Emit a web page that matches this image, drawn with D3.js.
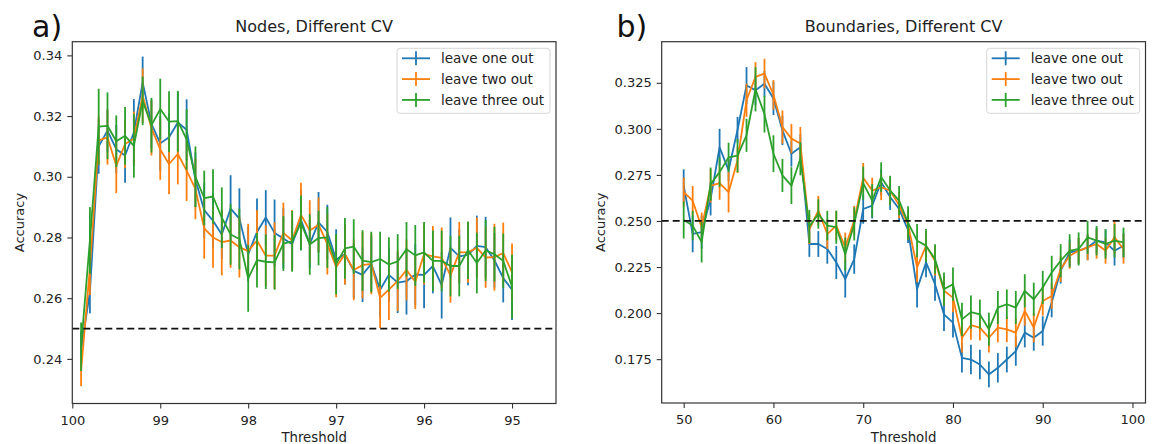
<!DOCTYPE html>
<html>
<head>
<meta charset="utf-8">
<script src="https://cdn.jsdelivr.net/npm/d3@7"></script>
<style>
  body { margin: 0; background: #fff; }
  text { font-family: "DejaVu Sans", sans-serif; fill: #222; }
</style>
</head>
<body>
<div id="chart"></div>
<script>
// panel a) nodes, threshold 99.9 .. 95.0
const nodesThreshold = [99.9, 99.8, 99.7, 99.6, 99.5, 99.4, 99.3, 99.2, 99.1, 99.0,
    98.9, 98.8, 98.7, 98.6, 98.5, 98.4, 98.3, 98.2, 98.1, 98.0,
    97.9, 97.8, 97.7, 97.6, 97.5, 97.4, 97.3, 97.2, 97.1, 97.0,
    96.9, 96.8, 96.7, 96.6, 96.5, 96.4, 96.3, 96.2, 96.1, 96.0,
    95.9, 95.8, 95.7, 95.6, 95.5, 95.4, 95.3, 95.2, 95.1, 95.0];

const nodesOne = [0.243, 0.262, 0.310, 0.3152, 0.3091, 0.307, 0.3146, 0.3311, 0.3174, 0.311,
    0.313, 0.3179, 0.3155, 0.299, 0.289, 0.2855, 0.281, 0.2895, 0.2862, 0.2745,
    0.2818, 0.2866, 0.2815, 0.2797, 0.2778, 0.2858, 0.2778, 0.285, 0.2818, 0.2727,
    0.2745, 0.269, 0.2677, 0.2713, 0.2628, 0.2677, 0.2651, 0.2656, 0.2678, 0.2677,
    0.2706, 0.2643, 0.2766, 0.2738, 0.2743, 0.2772, 0.2768, 0.2725, 0.2666, 0.2628];
const nodesOneErr = [0.006, 0.007, 0.009, 0.007, 0.008, 0.009, 0.011, 0.0085, 0.008, 0.009,
    0.008, 0.010, 0.010, 0.009, 0.009, 0.009, 0.008, 0.011, 0.010, 0.009,
    0.011, 0.009, 0.011, 0.010, 0.008, 0.010, 0.008, 0.010, 0.009, 0.010,
    0.010, 0.009, 0.009, 0.009, 0.009, 0.009, 0.010, 0.011, 0.010, 0.011,
    0.009, 0.011, 0.010, 0.009, 0.010, 0.010, 0.010, 0.009, 0.008, 0.010];

const nodesTwo = [0.236, 0.270, 0.312, 0.313, 0.3036, 0.3108, 0.3125, 0.3267, 0.316, 0.309,
    0.3042, 0.3075, 0.302, 0.296, 0.283, 0.280, 0.2785, 0.279, 0.2768, 0.2755,
    0.279, 0.274, 0.274, 0.2815, 0.279, 0.2875, 0.2823, 0.2842, 0.2778, 0.2703,
    0.2745, 0.2693, 0.2709, 0.2713, 0.2601, 0.2628, 0.2657, 0.2693, 0.2654, 0.2745,
    0.2738, 0.2733, 0.2675, 0.2751, 0.2751, 0.2766, 0.2734, 0.2735, 0.2749, 0.2685];
const nodesTwoErr = [0.005, 0.009, 0.008, 0.009, 0.009, 0.008, 0.009, 0.009, 0.009, 0.010,
    0.010, 0.010, 0.010, 0.010, 0.010, 0.010, 0.011, 0.009, 0.010, 0.009,
    0.010, 0.010, 0.011, 0.010, 0.010, 0.0105, 0.010, 0.009, 0.010, 0.010,
    0.010, 0.010, 0.011, 0.010, 0.010, 0.010, 0.010, 0.010, 0.009, 0.010,
    0.010, 0.010, 0.009, 0.010, 0.010, 0.010, 0.010, 0.011, 0.010, 0.0095];

const nodesThree = [0.244, 0.279, 0.3165, 0.3168, 0.3117, 0.3135, 0.3102, 0.325, 0.317, 0.3223,
    0.3182, 0.3183, 0.3123, 0.300, 0.293, 0.2935, 0.2865, 0.281, 0.2795, 0.2665,
    0.2725, 0.272, 0.2718, 0.278, 0.2787, 0.2848, 0.2777, 0.2798, 0.280, 0.2712,
    0.2764, 0.277, 0.2724, 0.2719, 0.2729, 0.2711, 0.2721, 0.2761, 0.2741, 0.2751,
    0.2723, 0.2723, 0.2706, 0.2706, 0.2758, 0.2716, 0.2757, 0.2745, 0.2723, 0.2638];
const nodesThreeErr = [0.008, 0.011, 0.0125, 0.011, 0.0085, 0.0095, 0.0105, 0.008, 0.009, 0.010,
    0.010, 0.010, 0.010, 0.010, 0.009, 0.009, 0.010, 0.010, 0.010, 0.011,
    0.009, 0.009, 0.009, 0.009, 0.010, 0.009, 0.010, 0.009, 0.010, 0.010,
    0.010, 0.009, 0.010, 0.010, 0.009, 0.009, 0.009, 0.009, 0.010, 0.010,
    0.010, 0.010, 0.010, 0.010, 0.0095, 0.010, 0.010, 0.009, 0.009, 0.0105];

// panel b) boundaries, threshold 50 .. 99
const boundThreshold = [50, 51, 52, 53, 54, 55, 56, 57, 58, 59,
    60, 61, 62, 63, 64, 65, 66, 67, 68, 69,
    70, 71, 72, 73, 74, 75, 76, 77, 78, 79,
    80, 81, 82, 83, 84, 85, 86, 87, 88, 89,
    90, 91, 92, 93, 94, 95, 96, 97, 98, 99];

const boundOne = [0.269, 0.243, 0.244, 0.262, 0.290, 0.2775, 0.2995, 0.3235, 0.321, 0.3245,
    0.3165, 0.2992, 0.2865, 0.290, 0.2375, 0.2375, 0.2348, 0.2275, 0.2184, 0.2293,
    0.2565, 0.2583, 0.271, 0.263, 0.2565, 0.245, 0.213, 0.2275, 0.2157, 0.1993,
    0.1948, 0.1757, 0.1748, 0.1721, 0.1667, 0.1703, 0.1748, 0.1794, 0.1894, 0.1866,
    0.1903, 0.2057, 0.223, 0.2329, 0.2338, 0.2357, 0.2393, 0.2384, 0.2338, 0.2366];
const boundOneErr = [0.009, 0.010, 0.009, 0.009, 0.010, 0.006, 0.007, 0.010, 0.008, 0.007,
    0.009, 0.008, 0.007, 0.007, 0.007, 0.007, 0.008, 0.009, 0.010, 0.008,
    0.008, 0.007, 0.007, 0.007, 0.007, 0.007, 0.010, 0.008, 0.009, 0.009,
    0.008, 0.008, 0.008, 0.008, 0.007, 0.008, 0.007, 0.008, 0.008, 0.007,
    0.008, 0.008, 0.007, 0.007, 0.007, 0.007, 0.007, 0.007, 0.008, 0.007];

const boundTwo = [0.2656, 0.261, 0.2466, 0.269, 0.2705, 0.2656, 0.283, 0.3155, 0.3282, 0.330,
    0.3185, 0.301, 0.2947, 0.292, 0.2455, 0.2556, 0.2429, 0.2475, 0.2357, 0.2502,
    0.2735, 0.2665, 0.2683, 0.2665, 0.2585, 0.248, 0.2248, 0.2366, 0.2284, 0.2121,
    0.2084, 0.1866, 0.1935, 0.1921, 0.1866, 0.1921, 0.1912, 0.1894, 0.2012, 0.1921,
    0.2066, 0.2093, 0.2239, 0.2311, 0.2338, 0.2357, 0.2375, 0.2338, 0.2411, 0.2348];
const boundTwoErr = [0.008, 0.008, 0.008, 0.009, 0.009, 0.011, 0.007, 0.009, 0.008, 0.008,
    0.008, 0.009, 0.008, 0.009, 0.008, 0.008, 0.008, 0.008, 0.008, 0.008,
    0.008, 0.007, 0.007, 0.007, 0.007, 0.008, 0.008, 0.008, 0.008, 0.008,
    0.008, 0.008, 0.008, 0.007, 0.008, 0.008, 0.007, 0.008, 0.008, 0.008,
    0.008, 0.007, 0.007, 0.007, 0.007, 0.007, 0.008, 0.007, 0.009, 0.008];

const boundThree = [0.2505, 0.2475, 0.2385, 0.270, 0.2765, 0.2845, 0.2855, 0.2965, 0.3215, 0.308,
    0.2865, 0.2747, 0.2692, 0.2838, 0.247, 0.2538, 0.2475, 0.2466, 0.232, 0.2484,
    0.2705, 0.261, 0.2738, 0.2665, 0.261, 0.249, 0.2393, 0.2366, 0.2293, 0.213,
    0.2157, 0.1966, 0.2005, 0.1993, 0.1912, 0.203, 0.2048, 0.203, 0.2121, 0.2075,
    0.2139, 0.2221, 0.2284, 0.2338, 0.2348, 0.2411, 0.2393, 0.2375, 0.2393, 0.2384];
const boundThreeErr = [0.010, 0.008, 0.011, 0.009, 0.008, 0.008, 0.009, 0.009, 0.012, 0.010,
    0.010, 0.009, 0.010, 0.009, 0.009, 0.008, 0.008, 0.009, 0.009, 0.009,
    0.009, 0.009, 0.008, 0.008, 0.008, 0.009, 0.009, 0.009, 0.008, 0.009,
    0.009, 0.009, 0.009, 0.008, 0.009, 0.009, 0.008, 0.009, 0.009, 0.009,
    0.009, 0.009, 0.009, 0.009, 0.009, 0.009, 0.008, 0.008, 0.009, 0.008];

const seriesNames = ['leave one out', 'leave two out', 'leave three out'];
const seriesColors = ['#1f77b4', '#ff7f0e', '#2ca02c'];
const chance = 0.25;

(function () {

    const svg = d3.select('#chart')
        .append('svg')
        .attr('width', 1157)
        .attr('height', 444);

    svg.append('rect').attr('width', 1157).attr('height', 444).attr('fill', '#fff');

    drawPanel({
        left: 72.3, right: 556, top: 41.7, bottom: 403.5,
        xDomain: [100, 94.5], yDomain: [0.2253, 0.3445],
        xTicks: [100, 99, 98, 97, 96, 95], xFormat: d3.format('d'),
        yTicks: [0.24, 0.26, 0.28, 0.30, 0.32, 0.34], yFormat: d3.format('.2f'),
        xs: nodesThreshold,
        series: [[nodesOne, nodesOneErr], [nodesTwo, nodesTwoErr], [nodesThree, nodesThreeErr]],
        title: 'Nodes, Different CV', tag: 'a)', tagX: 32, ylabelX: 19.5, legendX: 397
    });

    drawPanel({
        left: 661.7, right: 1145.5, top: 41.7, bottom: 403,
        xDomain: [47.55, 101.45], yDomain: [0.1512, 0.3473],
        xTicks: [50, 60, 70, 80, 90, 100], xFormat: d3.format('d'),
        yTicks: [0.175, 0.200, 0.225, 0.250, 0.275, 0.300, 0.325], yFormat: d3.format('.3f'),
        xs: boundThreshold,
        series: [[boundOne, boundOneErr], [boundTwo, boundTwoErr], [boundThree, boundThreeErr]],
        title: 'Boundaries, Different CV', tag: 'b)', tagX: 616.5, ylabelX: 600, legendX: 986.7
    });

    function drawPanel(p) {
        const x = d3.scaleLinear().domain(p.xDomain).range([p.left, p.right]);
        const y = d3.scaleLinear().domain(p.yDomain).range([p.bottom, p.top]);

        const g = svg.append('g');
        const plot = g.append('g');

        // error bars + lines, one series at a time
        p.series.forEach(([vals, errs], i) => {
            const pts = p.xs.map((t, j) => ({ t, v: vals[j], e: errs[j] }));
            plot.append('g')
                .selectAll('line')
                .data(pts)
                .join('line')
                .attr('x1', d => x(d.t))
                .attr('x2', d => x(d.t))
                .attr('y1', d => y(d.v - d.e))
                .attr('y2', d => y(d.v + d.e))
                .attr('stroke', seriesColors[i])
                .attr('stroke-width', 1.8);
            plot.append('path')
                .datum(pts)
                .attr('fill', 'none')
                .attr('stroke', seriesColors[i])
                .attr('stroke-width', 1.8)
                .attr('stroke-linejoin', 'round')
                .attr('d', d3.line().x(d => x(d.t)).y(d => y(d.v)));
        });

        // chance level
        g.append('line')
            .attr('x1', p.left).attr('x2', p.right)
            .attr('y1', y(chance)).attr('y2', y(chance))
            .attr('stroke', '#111')
            .attr('stroke-width', 1.8)
            .attr('stroke-dasharray', '7,4');

        // frame
        g.append('rect')
            .attr('x', p.left).attr('y', p.top)
            .attr('width', p.right - p.left).attr('height', p.bottom - p.top)
            .attr('fill', 'none')
            .attr('stroke', '#333')
            .attr('stroke-width', 1.2);

        const xAxis = g.append('g')
            .attr('transform', `translate(0,${p.bottom})`)
            .call(d3.axisBottom(x).tickValues(p.xTicks).tickFormat(p.xFormat).tickSize(5).tickPadding(7));
        const yAxis = g.append('g')
            .attr('transform', `translate(${p.left},0)`)
            .call(d3.axisLeft(y).tickValues(p.yTicks).tickFormat(p.yFormat).tickSize(5).tickPadding(5));
        [xAxis, yAxis].forEach(a => {
            a.select('.domain').remove();
            a.selectAll('line').attr('stroke', '#333').attr('stroke-width', 1.1);
            a.selectAll('text').attr('fill', '#222').style('font-size', '13px').style('font-family', '"DejaVu Sans"');
        });

        const cx = (p.left + p.right) / 2;
        g.append('text')
            .attr('x', cx).attr('y', 32)
            .attr('text-anchor', 'middle')
            .style('font-size', '16px')
            .text(p.title);

        g.append('text')
            .attr('x', p.tagX).attr('y', 37)
            .style('font-size', '30px')
            .style('fill', '#111')
            .text(p.tag);

        g.append('text')
            .attr('x', cx).attr('y', 441.5)
            .attr('text-anchor', 'middle')
            .style('font-size', '13.3px')
            .text('Threshold');

        g.append('text')
            .attr('transform', `translate(${p.ylabelX},${(p.top + p.bottom) / 2}) rotate(-90)`)
            .attr('text-anchor', 'middle')
            .attr('dy', '0.35em')
            .style('font-size', '13px')
            .text('Accuracy');

        // legend
        const leg = g.append('g').attr('transform', `translate(${p.legendX},48.3)`);
        leg.append('rect')
            .attr('width', 153).attr('height', 65)
            .attr('rx', 3)
            .attr('fill', '#fff').attr('fill-opacity', 0.85)
            .attr('stroke', '#d6d6d6');
        seriesNames.forEach((name, i) => {
            const ry = 10 + i * 20.8;
            const row = leg.append('g').attr('transform', `translate(0,${ry})`);
            row.append('line')
                .attr('x1', 5).attr('x2', 33).attr('y1', 0).attr('y2', 0)
                .attr('stroke', seriesColors[i]).attr('stroke-width', 1.8);
            row.append('line')
                .attr('x1', 19).attr('x2', 19).attr('y1', -7).attr('y2', 7)
                .attr('stroke', seriesColors[i]).attr('stroke-width', 1.8);
            row.append('text')
                .attr('x', 44).attr('y', 0).attr('dy', '0.35em')
                .style('font-size', '13.5px')
                .text(name);
        });
    }
})();
</script>
</body>
</html>
